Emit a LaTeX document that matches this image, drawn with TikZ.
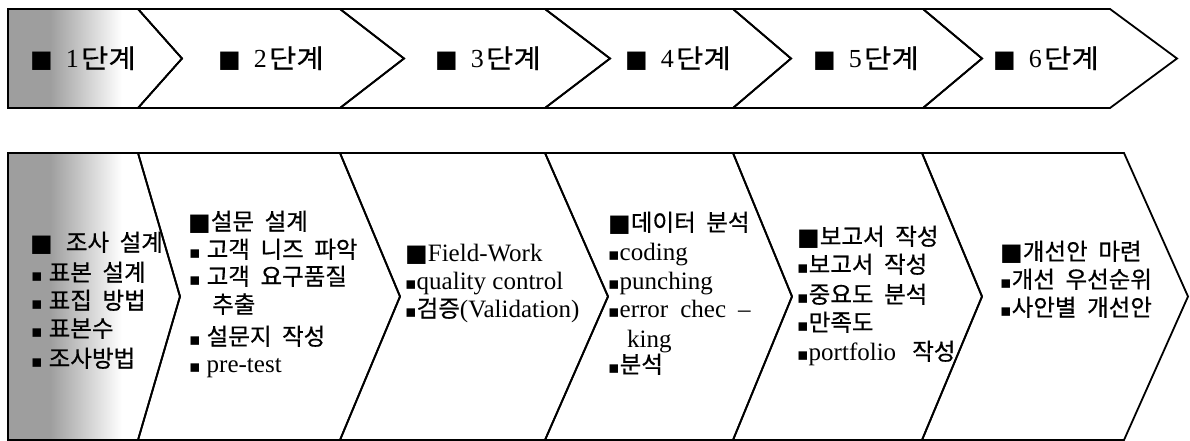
\documentclass[tikz,border=0pt]{standalone}
\usepackage{fontspec}
\setmainfont{Liberation Serif}
\newfontfamily\krfont[WordSpace=2,FakeBold=0.6]{Noto Sans CJK KR}
\newfontfamily\krwide[FakeStretch=1.15,FakeBold=0.3]{Noto Sans CJK KR}
\newfontfamily\symfont{DejaVu Sans}
\newcommand{\hg}[1]{{\krfont\fontsize{23.5}{26}\selectfont #1}}
\newcommand{\bigsq}{{\symfont\fontsize{24}{24}\selectfont ■}}
\newcommand{\smsq}{{\symfont\fontsize{17}{17}\selectfont ▪}}
\newcommand{\stagelbl}[1]{\bigsq\hspace{13pt}#1\hspace{2pt}{\krwide\fontsize{26}{28}\selectfont 단계}}

\begin{document}
\begin{tikzpicture}[x=1pt,y=-1pt,
  frame/.style={draw=black, line width=1.8pt, line join=miter},
  stagetxt/.style={anchor=base west, inner sep=0pt, font=\fontsize{26}{28}\selectfont},
  itemtxt/.style={anchor=base west, inner sep=0pt, font=\fontsize{25}{27}\selectfont}]
\useasboundingbox (0,0) rectangle (1190,441);
\fill[white] (0,0) rectangle (1190,441);

% ---------- upper row: six stages ----------
\begin{scope}
  \clip (8,9) -- (138,9) -- (182,58.5) -- (138,108) -- (8,108) -- cycle;
  \fill[black!38] (8,9) rectangle (50,108);
  \shade[left color=black!38, right color=white] (50,9) rectangle (122,108);
\end{scope}
\draw[frame] (8,9) -- (138,9) -- (182,58.5) -- (138,108) -- (8,108) -- cycle;
\foreach \a/\ta/\b/\tb in {138/182/340/404, 340/404/545/610, 545/610/733/791,
                           733/791/923/982, 923/982/1110/1177}
  \draw[frame] (\a,9) -- (\b,9) -- (\tb,58.5) -- (\b,108) -- (\a,108) -- (\ta,58.5) -- cycle;

\node[stagetxt] (s1) at (30,68)  {\stagelbl{1}};
\node[stagetxt] (s2) at (218,68) {\stagelbl{2}};
\node[stagetxt] (s3) at (435,68) {\stagelbl{3}};
\node[stagetxt] (s4) at (625,68) {\stagelbl{4}};
\node[stagetxt] (s5) at (813,68) {\stagelbl{5}};
\node[stagetxt] (s6) at (993,68) {\stagelbl{6}};

% ---------- lower row: tasks of each stage ----------
\begin{scope}
  \clip (8,153) -- (138,153) -- (180,296.5) -- (138,440) -- (8,440) -- cycle;
  \fill[black!38] (8,153) rectangle (50,440);
  \shade[left color=black!38, right color=white] (50,153) rectangle (122,440);
\end{scope}
\draw[frame] (8,153) -- (138,153) -- (180,296.5) -- (138,440) -- (8,440) -- cycle;
\foreach \a/\ta/\b/\tb in {138/180/340/400, 340/400/545/608, 545/608/733/792,
                           733/792/922/982, 922/982/1124/1188}
  \draw[frame] (\a,153) -- (\b,153) -- (\tb,296.5) -- (\b,440) -- (\a,440) -- (\ta,296.5) -- cycle;

% stage 1
\node[itemtxt] (a1) at (30,251) {\bigsq\hspace{13pt}\hg{조사 설계}};
\node[itemtxt] (a2) at (31,281) {\smsq\hspace{6pt}\hg{표본 설계}};
\node[itemtxt] (a3) at (31,309) {\smsq\hspace{6pt}\hg{표집 방법}};
\node[itemtxt] (a4) at (31,337) {\smsq\hspace{6pt}\hg{표본수}};
\node[itemtxt] (a5) at (31,367) {\smsq\hspace{6pt}\hg{조사방법}};
% stage 2
\node[itemtxt] (b1) at (188,230) {\bigsq\hg{설문 설계}};
\node[itemtxt] (b2) at (189,258) {\smsq\hspace{6pt}\hg{고객 니즈 파악}};
\node[itemtxt] (b3) at (189,285) {\smsq\hspace{6pt}\hg{고객 요구품질}};
\node[itemtxt] (b4) at (212,313) {\hg{추출}};
\node[itemtxt] (b5) at (189,345) {\smsq\hspace{6pt}\hg{설문지 작성}};
\node[itemtxt] (b6) at (189,372) {\smsq\hspace{6pt}pre-test};
% stage 3
\node[itemtxt] (c1) at (405,261) {\bigsq Field-Work};
\node[itemtxt] (c2) at (405,289) {\smsq quality control};
\node[itemtxt] (c3) at (405,317) {\smsq\hg{검증}(Validation)};
% stage 4
\node[itemtxt] (d1) at (608,231) {\bigsq\hg{데이터 분석}};
\node[itemtxt] (d2) at (608,260) {\smsq coding};
\node[itemtxt] (d3) at (608,289) {\smsq punching};
\node[itemtxt] (d4) at (608,317) {\smsq error\hspace{12pt}chec\hspace{12pt}--};
\node[itemtxt] (d5) at (627,347) {king};
\node[itemtxt] (d6) at (608,373) {\smsq\hg{분석}};
% stage 5
\node[itemtxt] (e1) at (797,245) {\bigsq\hg{보고서 작성}};
\node[itemtxt] (e2) at (797,273) {\smsq\hg{보고서 작성}};
\node[itemtxt] (e3) at (797,303) {\smsq\hg{중요도 분석}};
\node[itemtxt] (e4) at (797,331) {\smsq\hg{만족도}};
\node[itemtxt] (e5) at (797,360) {\smsq portfolio\hspace{16pt}\hg{작성}};
% stage 6
\node[itemtxt] (f1) at (1000,260) {\bigsq\hg{개선안 마련}};
\node[itemtxt] (f2) at (1000,288) {\smsq\hg{개선 우선순위}};
\node[itemtxt] (f3) at (1000,316) {\smsq\hg{사안별 개선안}};
\end{tikzpicture}
\end{document}
